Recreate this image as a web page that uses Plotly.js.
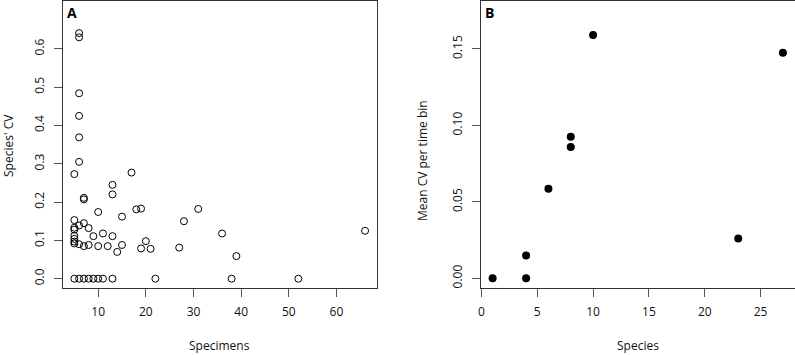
<!DOCTYPE html>
<html>
<head>
<meta charset="utf-8">
<script src="https://cdn.plot.ly/plotly-3.0.1.min.js"></script>
<style>html,body{margin:0;padding:0;background:#fff;}#chart{width:795px;height:355px;}</style>
</head>
<body>
<div id="chart"></div>
<script>
// Panel A: specimens per species vs species' CV
const specimensA = [6, 6, 6, 6, 6, 6, 5, 17, 13, 13, 7, 7, 10, 15, 18, 19, 31, 28, 36, 66,
  5, 5, 5, 5, 5, 5, 5, 6, 7, 8, 6, 7, 8, 9, 11, 13, 10, 12, 14, 15, 20, 19, 21, 27, 39,
  5, 6, 7, 8, 9, 10, 11, 13, 22, 38, 52];
const cvA = [0.641, 0.630, 0.484, 0.425, 0.369, 0.305, 0.273, 0.277, 0.245, 0.220, 0.211, 0.207, 0.174, 0.162, 0.181, 0.183, 0.182, 0.150, 0.118, 0.125,
  0.153, 0.133, 0.128, 0.112, 0.104, 0.097, 0.092, 0.139, 0.145, 0.132, 0.090, 0.085, 0.088, 0.111, 0.118, 0.111, 0.085, 0.085, 0.070, 0.088, 0.098, 0.079, 0.078, 0.081, 0.059,
  0, 0, 0, 0, 0, 0, 0, 0, 0, 0, 0];
// Panel B: species per time bin vs mean CV
const speciesB = [1, 4, 4, 6, 8, 8, 10, 23, 27];
const meanCvB = [0, 0, 0.015, 0.0586, 0.0925, 0.0858, 0.159, 0.0261, 0.1475];

const ticksAx = [10, 20, 30, 40, 50, 60];
const ticksAy = [0, 0.1, 0.2, 0.3, 0.4, 0.5, 0.6];
const ticksBx = [0, 5, 10, 15, 20, 25];
const ticksBy = [0, 0.05, 0.10, 0.15];

const W = 795, H = 355;
const FONT = "Open Sans, Noto Sans, sans-serif";
const px = v => v / W, py = v => (H - v) / H;

const axisBase = {
  showgrid: false, zeroline: false, showline: true, mirror: true,
  linecolor: '#333', linewidth: 1, ticks: 'outside', ticklen: 8, tickwidth: 1,
  tickcolor: '#555', tickfont: {family: FONT, size: 12, color: '#111'}
};

const traces = [
  {x: specimensA, y: cvA, type: 'scatter', mode: 'markers', xaxis: 'x', yaxis: 'y',
   marker: {symbol: 'circle-open', size: 7, color: '#000', line: {width: 1, color: '#000'}},
   hoverinfo: 'x+y'},
  {x: speciesB, y: meanCvB, type: 'scatter', mode: 'markers', xaxis: 'x2', yaxis: 'y2',
   marker: {symbol: 'circle', size: 8, color: '#000'}, hoverinfo: 'x+y'}
];

const layout = {
  width: W, height: H, showlegend: false,
  margin: {l: 0, r: 0, t: 0, b: 0},
  paper_bgcolor: '#fff', plot_bgcolor: '#fff',
  font: {family: FONT, size: 12, color: '#111'},
  xaxis: Object.assign({}, axisBase, {domain: [px(62.7), px(376.7)], range: [2.56, 68.44],
    tickvals: ticksAx, ticktext: ticksAx.map(String), anchor: 'y', ticklabelstandoff: 5}),
  yaxis: Object.assign({}, axisBase, {domain: [py(287.7), py(1.3)], range: [-0.0235, 0.724],
    tickvals: ticksAy, ticktext: ticksAy.map(v => v.toFixed(1)), tickangle: -90, anchor: 'x', ticklabelstandoff: 5}),
  xaxis2: Object.assign({}, axisBase, {domain: [px(481), px(794.5)], range: [-0.04, 28.04],
    tickvals: ticksBx, ticktext: ticksBx.map(String), anchor: 'y2', ticklabelstandoff: 5}),
  yaxis2: Object.assign({}, axisBase, {domain: [py(288), py(1)], range: [-0.0063, 0.1813],
    tickvals: ticksBy, ticktext: ticksBy.map(v => v.toFixed(2)), tickangle: -90, anchor: 'x2', ticklabelstandoff: 5}),
  annotations: [
    {text: 'Specimens', xref: 'paper', yref: 'paper', x: px(219.7), y: py(345.5), xanchor: 'center', yanchor: 'middle', showarrow: false, font: {family: FONT, size: 12, color: '#111'}},
    {text: "Species' CV", xref: 'paper', yref: 'paper', x: px(8), y: py(146), xanchor: 'center', yanchor: 'middle', textangle: -90, showarrow: false, font: {family: FONT, size: 12, color: '#111'}},
    {text: 'Species', xref: 'paper', yref: 'paper', x: px(637.7), y: py(345.5), xanchor: 'center', yanchor: 'middle', showarrow: false, font: {family: FONT, size: 12, color: '#111'}},
    {text: 'Mean CV per time bin', xref: 'paper', yref: 'paper', x: px(423), y: py(161), xanchor: 'center', yanchor: 'middle', textangle: -90, showarrow: false, font: {family: FONT, size: 12, color: '#111'}},
    {text: '<b>A</b>', xref: 'paper', yref: 'paper', x: px(65), y: py(13), xanchor: 'left', yanchor: 'middle', showarrow: false, font: {family: FONT, size: 14, color: '#000'}},
    {text: '<b>B</b>', xref: 'paper', yref: 'paper', x: px(483), y: py(13), xanchor: 'left', yanchor: 'middle', showarrow: false, font: {family: FONT, size: 14, color: '#000'}}
  ]
};

Plotly.newPlot('chart', traces, layout, {displayModeBar: false, staticPlot: true});
</script>
</body>
</html>
